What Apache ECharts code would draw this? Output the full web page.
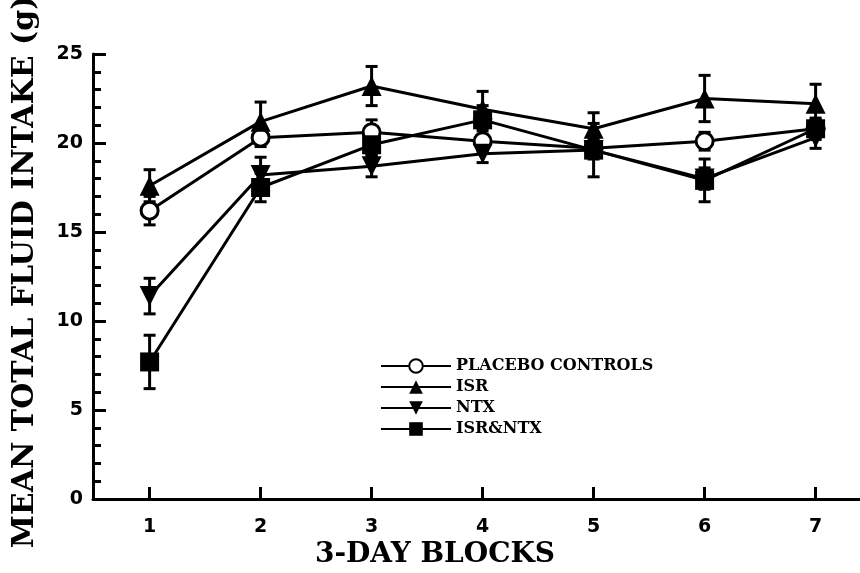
<!DOCTYPE html>
<html><head><meta charset="utf-8">
<script src="https://cdn.jsdelivr.net/npm/echarts@6/dist/echarts.min.js"></script>
<style>html,body{margin:0;padding:0;background:#fff}#c{width:860px;height:573px}</style>
</head><body><div id="c"></div>
<script>
const blocks = [1, 2, 3, 4, 5, 6, 7];
const xTicks = [1, 2, 3, 4, 5, 6, 7];
const placebo = [16.2, 20.3, 20.6, 20.1, 19.7, 20.1, 20.8];
const placeboErr = [0.8, 0.5, 0.7, 0.6, 0.5, 0.5, 0.5];
const isr = [17.6, 21.2, 23.2, 21.9, 20.8, 22.5, 22.2];
const isrErr = [0.9, 1.1, 1.1, 1.0, 0.9, 1.3, 1.1];
const ntx = [11.4, 18.2, 18.7, 19.4, 19.6, 18.0, 20.3];
const ntxErr = [1.0, 1.0, 0.6, 0.5, 0.5, 0.6, 0.6];
const isrNtx = [7.7, 17.5, 19.9, 21.3, 19.6, 17.9, 20.8];
const isrNtxErr = [1.5, 0.8, 0.6, 0.8, 1.5, 1.2, 0.6];
const names = ['PLACEBO CONTROLS', 'ISR', 'NTX', 'ISR&NTX'];

const chart = echarts.init(document.getElementById('c'));
const pair = (vals) => blocks.map((b, i) => [b, vals[i]]);
const errData = (vals, errs) => blocks.map((b, i) => [b, vals[i] - errs[i], vals[i] + errs[i]]);

function errSeries(vals, errs) {
  return {
    type: 'custom', silent: true, z: 1,
    data: errData(vals, errs),
    renderItem: function (params, api) {
      const x = api.value(0);
      const lo = api.coord([x, api.value(1)]);
      const hi = api.coord([x, api.value(2)]);
      const w = 6;
      const st = { stroke: '#000', lineWidth: 3 };
      return { type: 'group', children: [
        { type: 'line', shape: { x1: lo[0], y1: lo[1], x2: hi[0], y2: hi[1] }, style: st },
        { type: 'line', shape: { x1: lo[0] - w, y1: lo[1], x2: lo[0] + w, y2: lo[1] }, style: st },
        { type: 'line', shape: { x1: hi[0] - w, y1: hi[1], x2: hi[0] + w, y2: hi[1] }, style: st }
      ]};
    }
  };
}
function lineSeries(name, vals, symbol, size, fill) {
  return {
    name: name, type: 'line', data: pair(vals), z: 3,
    symbol: symbol, symbolSize: size, showAllSymbol: true,
    lineStyle: { color: '#000', width: 3 },
    itemStyle: { color: fill, borderColor: '#000', borderWidth: fill === '#fff' ? 3 : 0 },
    emphasis: { disabled: true }
  };
}
const triUp = 'path://M0,-10 L10,8 L-10,8 Z';
const triDown = 'path://M0,10 L10,-8 L-10,-8 Z';

chart.setOption({
  animation: false,
  backgroundColor: '#fff',
  grid: { left: 93, right: 0, top: 54, bottom: 74 },
  xAxis: {
    type: 'value', min: 0.49, max: 7.4,
    axisLine: { lineStyle: { color: '#000', width: 3 } },
    axisTick: { inside: true, length: 12, lineStyle: { color: '#000', width: 3 }, customValues: xTicks },
    axisLabel: { customValues: xTicks, color: '#000', fontFamily: 'DejaVu Sans', fontWeight: 'bold', fontSize: 19, margin: 19 },
    splitLine: { show: false }
  },
  yAxis: {
    type: 'value', min: 0, max: 25, interval: 5,
    axisLine: { show: true, lineStyle: { color: '#000', width: 3 } },
    axisTick: { show: true, inside: true, length: 13, lineStyle: { color: '#000', width: 3 } },
    minorTick: { show: true, splitNumber: 5, length: 8, lineStyle: { color: '#000', width: 3 } },
    axisLabel: { color: '#000', fontFamily: 'DejaVu Sans', fontWeight: 'bold', fontSize: 19, margin: 10 },
    splitLine: { show: false }
  },
  legend: {
    data: names, orient: 'vertical', left: 375, top: 353,
    itemWidth: 70, itemHeight: 17, itemGap: 5,
    textStyle: { color: '#000', fontFamily: 'DejaVu Serif', fontWeight: 'bold', fontSize: 16 },
    selectedMode: false
  },
  graphic: [
    { type: 'text', x: 25, y: 272, rotation: Math.PI / 2,
      style: { text: 'MEAN TOTAL FLUID INTAKE (g)', fill: '#000', font: 'bold 30px "DejaVu Serif"', align: 'center', verticalAlign: 'middle' } },
    { type: 'text', x: 435, y: 555,
      style: { text: '3-DAY BLOCKS', fill: '#000', font: 'bold 28px "DejaVu Serif"', align: 'center', verticalAlign: 'middle' } }
  ],
  series: [
    errSeries(placebo, placeboErr), errSeries(isr, isrErr), errSeries(ntx, ntxErr), errSeries(isrNtx, isrNtxErr),
    lineSeries(names[0], placebo, 'circle', 17, '#fff'),
    lineSeries(names[1], isr, triUp, 20, '#000'),
    lineSeries(names[2], ntx, triDown, 20, '#000'),
    lineSeries(names[3], isrNtx, 'rect', 19, '#000')
  ]
});
</script></body></html>
